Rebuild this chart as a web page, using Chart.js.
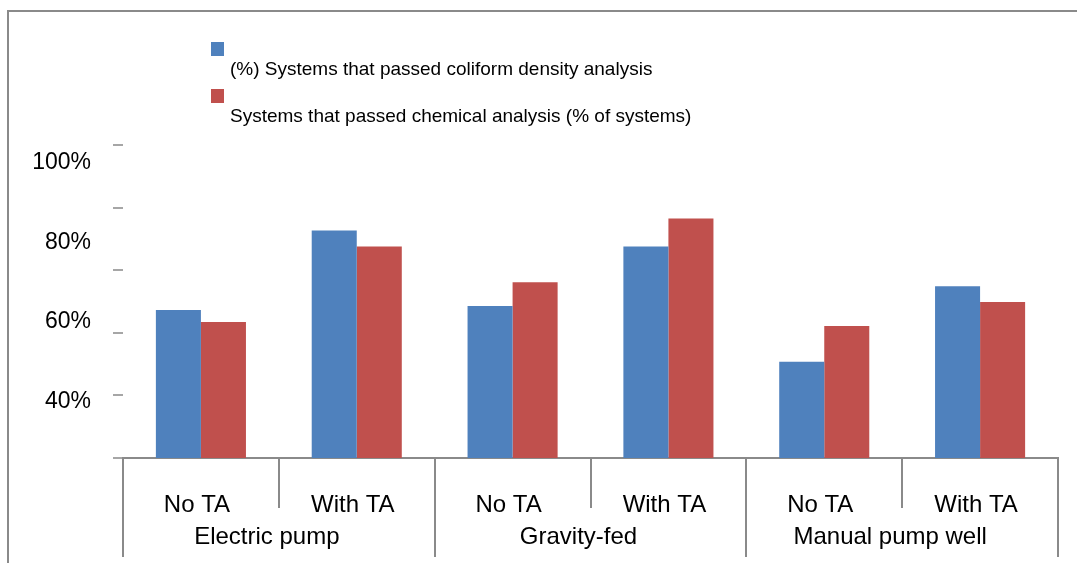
<!DOCTYPE html>
<html>
<head>
<meta charset="utf-8">
<title>Systems that passed analysis</title>
<script src="https://cdn.jsdelivr.net/npm/chart.js@4"></script>
<style>
  html, body { margin: 0; padding: 0; background: #fff; overflow: hidden; }
  #wrap { position: relative; width: 1077px; height: 563px; }
  /* outer chart frame, only left and top edges are visible */
  #frame { position: absolute; left: 7px; top: 10px; width: 1100px; height: 600px; border-left: 2px solid #8a8a8a; border-top: 2px solid #8a8a8a; }
  #chart { position: absolute; left: 0; top: 0; }
</style>
</head>
<body>
<div id="wrap">
  <div id="frame"></div>
  <canvas id="chart" width="1077" height="563"></canvas>
</div>
<script>
// categories
const subLabels = ['No TA', 'With TA', 'No TA', 'With TA', 'No TA', 'With TA'];
const groupLabels = ['Electric pump', 'Gravity-fed', 'Manual pump well'];

// series (% of systems)
const coliformLabel = '(%) Systems that passed coliform density analysis';
const coliformValues = [63, 83, 64, 79, 50, 69];
const chemicalLabel = 'Systems that passed chemical analysis (% of systems)';
const chemicalValues = [60, 79, 70, 86, 59, 65];

// y tick labels as printed
const yLabelTicks = [40, 60, 80, 100];

const FONT = "'Liberation Sans', Arial, sans-serif";
const GRAY = '#8a8a8a';

// legend drawn above the plot, swatch sits above-left of its text
const legendPlugin = {
    id: 'topLegend',
    afterDraw(chart) {
        const ctx = chart.ctx;
        ctx.save();
        ctx.font = '19px ' + FONT;
        ctx.textBaseline = 'middle';
        chart.data.datasets.forEach((ds, i) => {
            const y = 42 + i * 47;
            ctx.fillStyle = ds.backgroundColor;
            ctx.fillRect(211, y, 13, 14);
            ctx.fillStyle = '#000';
            ctx.fillText(ds.label, 230, y + 28);
        });
        ctx.restore();
    }
};

const ctx = document.getElementById('chart').getContext('2d');
const chart = new Chart(ctx, {
    type: 'bar',
    data: {
        labels: subLabels,
        datasets: [{
            label: coliformLabel,
            data: coliformValues,
            backgroundColor: '#4F81BD',
            yAxisID: 'y2',
        }, {
            label: chemicalLabel,
            data: chemicalValues,
            backgroundColor: '#C0504D',
            yAxisID: 'y2',
        }],
    },
    options: {
        responsive: false,
        devicePixelRatio: 1,
        animation: false,
        categoryPercentage: 0.578,
        barPercentage: 1.0,
        layout: { padding: { top: 145, right: 19, bottom: 0, left: 0 } },
        plugins: {
            legend: { display: false },
            tooltip: { enabled: false },
        },
        scales: {
            // sub categories; separators between groups run long, inner ones short
            x: {
                type: 'category',
                position: 'bottom',
                weight: 0,
                offset: true,
                grid: {
                    display: true,
                    offset: true,
                    drawOnChartArea: false,
                    tickLength: 99,
                    color: GRAY,
                    lineWidth: 2,
                    tickBorderDash: (c) => (c.index % 2 === 1 ? [49, 200] : []),
                },
                border: { display: true, color: GRAY, width: 2 },
                ticks: { color: '#000', font: { family: FONT, size: 24 }, padding: -66, labelOffset: -4, maxRotation: 0, autoSkip: false },
                afterFit(scale) { scale.height = 60; },
            },
            // group names
            x2: {
                type: 'category',
                position: 'bottom',
                weight: 1,
                labels: groupLabels,
                offset: true,
                grid: { display: false, drawTicks: false, offset: true },
                border: { display: false },
                ticks: { color: '#000', font: { family: FONT, size: 24 }, padding: 5, labelOffset: -12, maxRotation: 0, autoSkip: false },
                afterFit(scale) { scale.height = 45; },
            },
            // tick marks only
            y: {
                type: 'linear',
                position: 'left',
                weight: 0,
                min: 0,
                max: 100,
                ticks: { display: false, stepSize: 20 },
                grid: { display: true, drawOnChartArea: false, tickLength: 10, color: '#a6a6a6', lineWidth: 2 },
                border: { display: false },
                afterFit(scale) { scale.width = 10; },
            },
            // printed percentage labels
            y2: {
                type: 'linear',
                position: 'left',
                weight: 10,
                min: 25.8,
                max: 104.5,
                grid: { display: false, drawTicks: false },
                border: { display: false },
                ticks: {
                    color: '#000',
                    font: { family: FONT, size: 23 },
                    padding: 22,
                    callback: (v) => v + '%',
                },
                afterBuildTicks(scale) { scale.ticks = yLabelTicks.map(v => ({ value: v })); },
                afterFit(scale) { scale.width = 113; },
            },
        },
    },
    plugins: [legendPlugin],
});
</script>
</body>
</html>
